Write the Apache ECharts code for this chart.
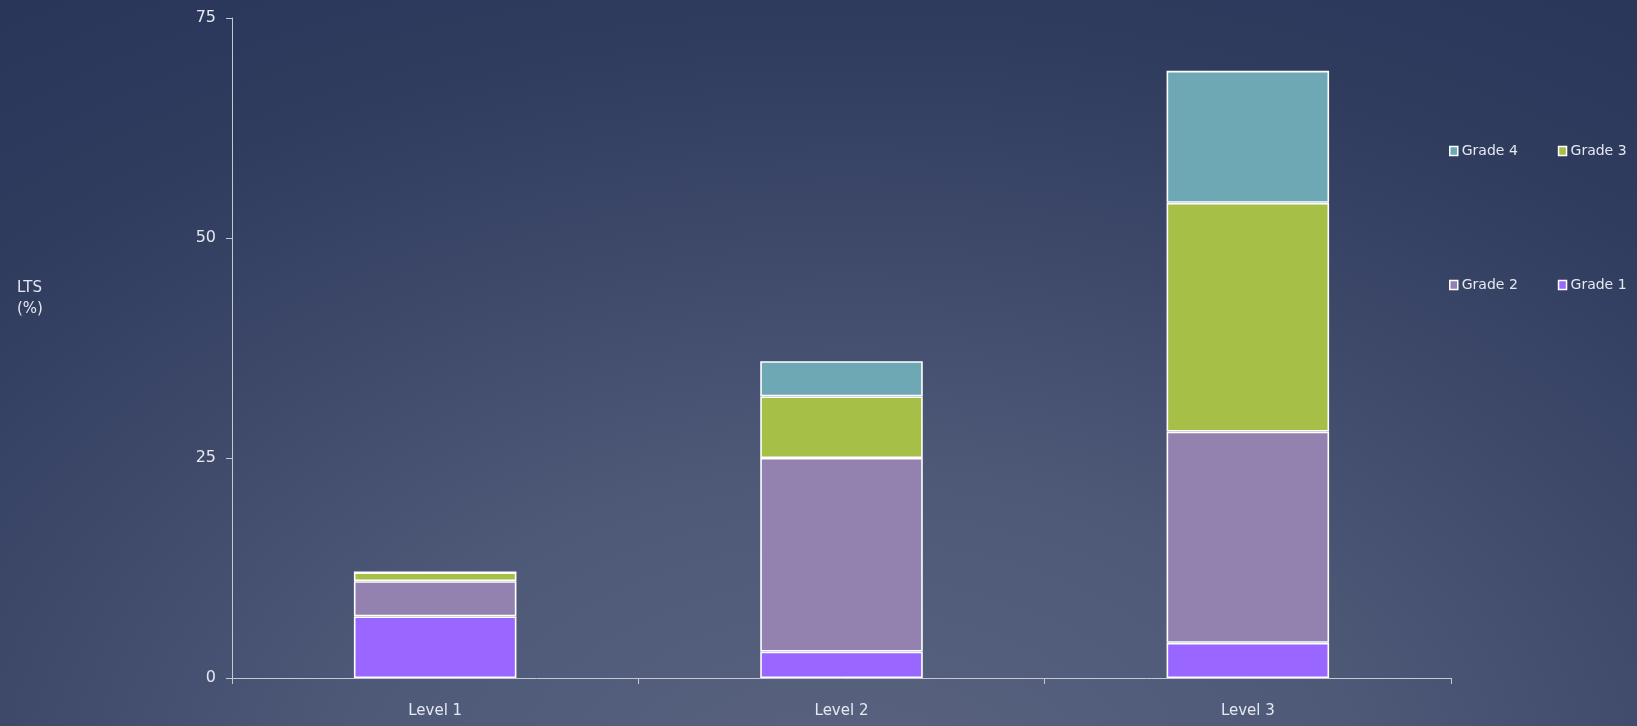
<!DOCTYPE html>
<html>
<head>
<meta charset="utf-8">
<script src="https://cdn.jsdelivr.net/npm/echarts@6/dist/echarts.min.js"></script>
<style>
  html, body { margin: 0; padding: 0; width: 1637px; height: 726px; overflow: hidden; }
  body {
    background: radial-gradient(ellipse 90% 135% at 52% 112%, #5a6480 0%, #4e5978 35%, #3d4869 60%, #2f3c5e 80%, #29365a 100%);
  }
  #chart { width: 1637px; height: 726px; }
</style>
</head>
<body>
<div id="chart"></div>
<script>
// Categories and stacked LTS percentages per grade
const categories = ['Level 1', 'Level 2', 'Level 3'];
const grade1 = [7, 3, 4];
const grade2 = [4, 22, 24];
const grade3 = [1, 7, 26];
const grade4 = [0, 4, 15];
const yTicks = [0, 25, 50, 75];

const colors = {
  'Grade 1': '#9966ff',
  'Grade 2': '#9382b0',
  'Grade 3': '#a6bf47',
  'Grade 4': '#6ea8b5'
};

const textColor = '#e6e8f0';
const font = 'DejaVu Sans';

function barSeries(name, data) {
  return {
    name: name,
    type: 'bar',
    stack: 'lts',
    data: data,
    barCategoryGap: '60%',
    itemStyle: { color: colors[name], borderColor: '#ffffff', borderWidth: 1.6 }
  };
}

function legendRow(names, top) {
  return {
    data: names.map(n => ({ name: n, itemStyle: { color: colors[n], borderColor: '#ffffff', borderWidth: 1.5 } })),
    left: 1449,
    top: top,
    orient: 'horizontal',
    icon: 'rect',
    itemWidth: 8,
    itemHeight: 9,
    itemGap: 40,
    padding: 0,
    selectedMode: false,
    textStyle: { color: textColor, fontFamily: font, fontSize: 14, padding: [0, 0, 0, -1] }
  };
}

const chart = echarts.init(document.getElementById('chart'), null, { renderer: 'canvas' });
chart.setOption({
  backgroundColor: 'transparent',
  animation: false,
  grid: { left: 232, right: 186, top: 18, bottom: 48 },
  legend: [
    legendRow(['Grade 4', 'Grade 3'], 144),
    legendRow(['Grade 2', 'Grade 1'], 278)
  ],
  xAxis: {
    type: 'category',
    data: categories,
    axisLine: { lineStyle: { color: '#c4c8d4', width: 1 } },
    axisTick: { show: true, length: 6, lineStyle: { color: '#c4c8d4' } },
    axisLabel: { color: textColor, fontFamily: font, fontSize: 15, margin: 26 }
  },
  yAxis: {
    type: 'value',
    min: yTicks[0],
    max: yTicks[yTicks.length - 1],
    interval: 25,
    splitLine: { show: false },
    axisLine: { show: true, lineStyle: { color: '#c4c8d4', width: 1 } },
    axisTick: { show: true, length: 6, lineStyle: { color: '#c4c8d4' } },
    axisLabel: { color: textColor, fontFamily: font, fontSize: 16, margin: 16 }
  },
  graphic: [{
    type: 'text',
    left: 17,
    top: 278,
    style: {
      text: 'LTS\n(%)',
      fill: textColor,
      font: '15px "DejaVu Sans"',
      lineHeight: 21
    }
  }],
  series: [
    barSeries('Grade 1', grade1),
    barSeries('Grade 2', grade2),
    barSeries('Grade 3', grade3),
    barSeries('Grade 4', grade4)
  ]
});
</script>
</body>
</html>
